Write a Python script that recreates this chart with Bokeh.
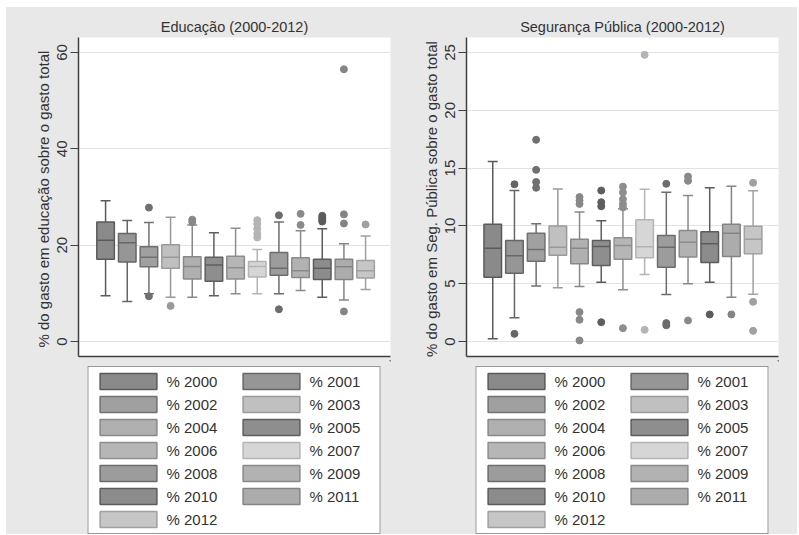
from bokeh.plotting import figure
from bokeh.models import ColumnDataSource, Legend, LegendItem, FixedTicker, Range1d, Spacer
from bokeh.layouts import row, column
from bokeh.embed import file_html
from bokeh.resources import INLINE

years = list(range(2000, 2013))
labels = ["% " + str(y) for y in years]

# Educação (2000-2012): box-plot statistics
edu_lo = [9.5, 8.3, 9.9, 9.2, 9.2, 9.5, 9.9, 9.9, 9.9, 10.6, 9.2, 8.6, 10.8]
edu_q1 = [17.1, 16.5, 15.5, 15.2, 13.0, 12.5, 13.0, 13.4, 13.75, 13.3, 12.9, 12.9, 13.2]
edu_med = [21.0, 20.5, 17.5, 17.5, 15.6, 15.9, 15.3, 15.6, 15.2, 14.7, 15.2, 15.5, 14.7]
edu_q3 = [24.8, 22.4, 19.7, 20.1, 17.6, 17.5, 17.7, 16.6, 18.5, 17.4, 17.1, 17.1, 16.8]
edu_hi = [29.2, 25.1, 24.7, 25.8, 24.2, 22.6, 23.5, 19.1, 24.8, 23.0, 23.4, 20.3, 21.9]
edu_out_year = [2002, 2002, 2003, 2004, 2004, 2007, 2007, 2007, 2007, 2007,
                2008, 2008, 2009, 2009, 2010, 2010, 2010, 2010,
                2011, 2011, 2011, 2011, 2012]
edu_out_val = [27.8, 9.4, 7.4, 25.3, 24.8, 25.2, 24.4, 23.4, 22.4, 21.6,
               26.2, 6.7, 26.5, 24.2, 26.1, 25.7, 25.3, 24.9,
               56.5, 26.4, 24.5, 6.25, 24.3]

# Segurança Pública (2000-2012)
seg_lo = [0.23, 2.05, 4.79, 4.64, 4.76, 5.13, 4.47, 5.8, 4.07, 4.99, 5.13, 3.83, 4.09]
seg_q1 = [5.56, 5.91, 6.95, 7.47, 6.72, 6.57, 7.12, 7.24, 6.43, 7.3, 6.83, 7.35, 7.59]
seg_med = [8.07, 7.41, 7.96, 8.16, 8.07, 8.22, 8.3, 8.19, 8.16, 8.59, 8.45, 9.37, 8.85]
seg_q3 = [10.15, 8.74, 9.37, 10.0, 8.85, 8.74, 8.97, 10.53, 9.17, 9.6, 9.49, 10.15, 9.97]
seg_hi = [15.57, 13.06, 10.18, 13.2, 11.2, 10.44, 11.48, 13.18, 12.92, 12.63, 13.3, 13.44, 13.03]
seg_out_year = [2001, 2001, 2002, 2002, 2002, 2002,
                2004, 2004, 2004, 2004, 2004, 2004,
                2005, 2005, 2005, 2005,
                2006, 2006, 2006, 2006, 2006, 2006,
                2007, 2007, 2008, 2008, 2008, 2009, 2009, 2009,
                2010, 2011, 2012, 2012, 2012]
seg_out_val = [13.6, 0.66, 17.45, 14.85, 13.8, 13.3,
               12.5, 12.2, 11.9, 2.54, 1.88, 0.09,
               13.06, 12.05, 11.7, 1.67,
               13.4, 12.9, 12.3, 11.9, 11.6, 1.15,
               24.8, 1.01, 13.64, 1.59, 1.4, 14.27, 13.9, 1.82,
               2.34, 2.34, 13.73, 3.43, 0.92]

fills = ["#8a8a8a", "#969696", "#a0a0a0", "#c0c0c0", "#b0b0b0", "#8e8e8e", "#b6b6b6",
         "#d6d6d6", "#9c9c9c", "#b2b2b2", "#8c8c8c", "#acacac", "#c6c6c6"]
lines = ["#5a5a5a", "#666666", "#707070", "#9a9a9a", "#888888", "#5e5e5e", "#8e8e8e",
         "#b4b4b4", "#6c6c6c", "#8a8a8a", "#5c5c5c", "#848484", "#a0a0a0"]

BG = "#e8e8e8"
FONT = "Liberation Sans"
BOX_W = 0.81
CAP = 0.23
PLOT_H = 353
LEG_H = 174


def panel(title, ylabel, lo, q1, med, q3, hi, out_year, out_val, yr, ticks, xr,
          width, bl, br):
    xs = [y - 1999 for y in years]
    src = ColumnDataSource(dict(
        x=xs, lo=lo, q1=q1, med=med, q3=q3, hi=hi,
        mx0=[x - BOX_W / 2 for x in xs], mx1=[x + BOX_W / 2 for x in xs],
        cx0=[x - CAP for x in xs], cx1=[x + CAP for x in xs],
        fill=fills, line=lines, label=labels))
    p = figure(width=width, height=PLOT_H, x_range=Range1d(*xr), y_range=Range1d(*yr),
               output_backend="svg", toolbar_location=None, title=title,
               min_border_left=bl, min_border_right=br, min_border_top=30,
               min_border_bottom=4)
    p.background_fill_color = "white"
    p.border_fill_color = BG
    p.outline_line_color = None

    p.title.align = "center"
    p.title.text_font = FONT
    p.title.text_font_size = "14.5px"
    p.title.text_font_style = "normal"
    p.title.text_color = "#333333"
    p.title.standoff = 5

    # whiskers and caps
    p.segment(x0="x", x1="x", y0="q3", y1="hi", line_color="line", line_width=1.5, source=src)
    p.segment(x0="x", x1="x", y0="lo", y1="q1", line_color="line", line_width=1.5, source=src)
    p.segment(x0="cx0", x1="cx1", y0="hi", y1="hi", line_color="line", line_width=1.5, source=src)
    p.segment(x0="cx0", x1="cx1", y0="lo", y1="lo", line_color="line", line_width=1.5, source=src)
    # boxes
    p.vbar(x="x", width=BOX_W, bottom="q1", top="q3", fill_color="fill",
           line_color="line", line_width=1.5, source=src)
    # medians
    p.segment(x0="mx0", x1="mx1", y0="med", y1="med", line_color="line", line_width=1.5,
              source=src)
    # outliers
    osrc = ColumnDataSource(dict(
        x=[y - 1999 for y in out_year], y=out_val,
        c=[lines[y - 2000] for y in out_year]))
    p.scatter(x="x", y="y", size=7, fill_color="c", line_color="c", source=osrc)

    # axes
    p.xgrid.visible = False
    p.ygrid.grid_line_color = "#e2e2e2"
    p.ygrid.grid_line_width = 1
    p.xaxis.ticker = FixedTicker(ticks=[])
    p.xaxis.major_tick_out = 0
    p.xaxis.major_tick_in = 0
    p.xaxis.minor_tick_out = 0
    p.xaxis.major_label_text_font_size = "0px"
    p.xaxis.major_label_standoff = 0
    p.xaxis.axis_line_color = "#404040"
    p.xaxis.axis_line_width = 1.5

    p.yaxis.ticker = FixedTicker(ticks=ticks)
    p.yaxis.axis_line_color = "#404040"
    p.yaxis.axis_line_width = 1.5
    p.yaxis.major_tick_line_color = "#404040"
    p.yaxis.major_tick_out = 8
    p.yaxis.major_tick_in = 0
    p.yaxis.minor_tick_line_color = None
    p.yaxis.major_label_orientation = "vertical"
    p.yaxis.major_label_text_font = FONT
    p.yaxis.major_label_text_font_size = "15px"
    p.yaxis.major_label_text_color = "#333333"
    p.yaxis.major_label_standoff = 3
    p.yaxis.axis_label = ylabel
    p.yaxis.axis_label_text_font = FONT
    p.yaxis.axis_label_text_font_size = "15px"
    p.yaxis.axis_label_text_font_style = "normal"
    p.yaxis.axis_label_text_color = "#333333"
    p.yaxis.axis_label_standoff = 3

    # legend strip: same box data, legend placed in its own grey area
    lf = figure(width=width, height=LEG_H, x_range=Range1d(-100, -99), y_range=Range1d(0, 1),
                output_backend="svg", toolbar_location=None,
                min_border_left=bl, min_border_right=br, min_border_top=0,
                min_border_bottom=0)
    lf.axis.visible = False
    lf.grid.visible = False
    lf.background_fill_color = BG
    lf.border_fill_color = BG
    lf.outline_line_color = None
    boxes = lf.vbar(x="x", width=BOX_W, bottom="q1", top="q3", fill_color="fill",
                    line_color="line", line_width=1.5, source=src)
    items = [LegendItem(label=labels[i], renderers=[boxes], index=i) for i in range(len(years))]
    leg = Legend(items=items, ncols=2, orientation="horizontal", location="top_center")
    leg.glyph_width = 71
    leg.glyph_height = 20
    leg.label_height = 20
    leg.label_width = 66
    leg.label_standoff = 3
    leg.spacing = 3
    leg.padding = 4
    leg.margin = 6
    leg.label_text_font = FONT
    leg.label_text_font_size = "15px"
    leg.label_text_color = "#333333"
    leg.border_line_color = "#333333"
    leg.border_line_width = 1
    leg.background_fill_color = "white"
    leg.background_fill_alpha = 1
    lf.add_layout(leg)
    return column(p, lf, styles={"background-color": BG})


p1 = panel("Educação (2000-2012)", "% do gasto  em educação sobre o gasto total",
           edu_lo, edu_q1, edu_med, edu_q3, edu_hi, edu_out_year, edu_out_val,
           (-3.1, 63.1), [0, 20, 40, 60], (-0.25, 14.15), 390, 72, 6)
p2 = panel("Segurança Pública (2000-2012)", "%  do gasto em Seg. Pública sobre o gasto total",
           seg_lo, seg_q1, seg_med, seg_q3, seg_hi, seg_out_year, seg_out_val,
           (-1.3, 26.3), [0, 5, 10, 15, 20, 25], (-0.21, 14.17), 401, 70, 19)

charts = row(p1, p2, styles={"background-color": BG})
layout = column(Spacer(height=7), row(Spacer(width=6), charts))
open("out.html", "w").write(file_html(layout, INLINE))
